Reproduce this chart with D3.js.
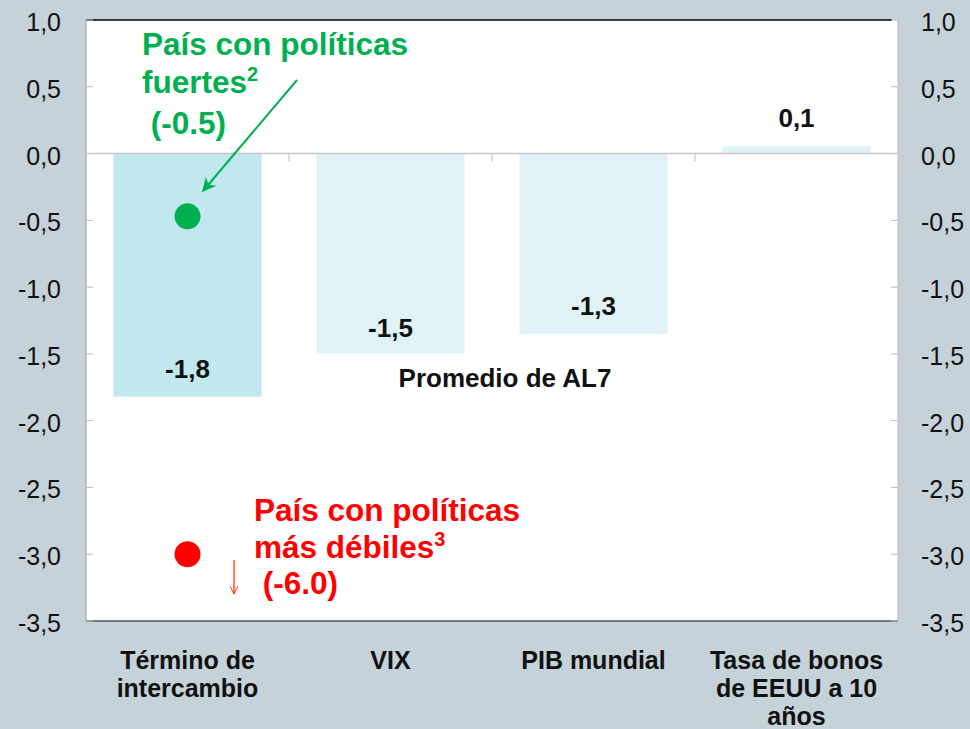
<!DOCTYPE html>
<html>
<head>
<meta charset="utf-8">
<script src="https://cdn.jsdelivr.net/npm/d3@7"></script>
<style>
  body { margin: 0; background: #c6d2d9; }
  svg { display: block; font-family: Arial, "Liberation Sans", sans-serif; }
</style>
</head>
<body>
<svg width="970" height="729"></svg>
<script>
// datos
const categories = ['Término de intercambio', 'VIX', 'PIB mundial', 'Tasa de bonos de EEUU a 10 años'];
const categoryLines = [['Término de', 'intercambio'], ['VIX'], ['PIB mundial'], ['Tasa de bonos', 'de EEUU a 10', 'años']];
const values = [-1.82, -1.5, -1.35, 0.055];
const valueLabels = ['-1,8', '-1,5', '-1,3', '0,1'];
const yTicks = [1.0, 0.5, 0.0, -0.5, -1.0, -1.5, -2.0, -2.5, -3.0, -3.5];
const strongPoint = { cat: 'Término de intercambio', value: -0.47 };
const weakPoint = { cat: 'Término de intercambio', value: -3.0 };

const svg = d3.select('svg');
const mLeft = 86, mRight = 898, mTop = 20, mBottom = 621;

const x = d3.scaleBand().domain(categories).range([mLeft, mRight]).paddingInner(0.27).paddingOuter(0.135);
const y = d3.scaleLinear().domain([-3.5, 1.0]).range([mBottom, mTop]);

const defs = svg.append('defs');
defs.append('marker').attr('id', 'arrowG').attr('viewBox', '0 0 10 10')
  .attr('refX', 9).attr('refY', 5).attr('markerWidth', 7).attr('markerHeight', 7)
  .attr('orient', 'auto')
  .append('path').attr('d', 'M0,0 L10,5 L0,10 L3,5 Z').attr('fill', '#00b050');
defs.append('marker').attr('id', 'arrowR').attr('viewBox', '0 0 10 10')
  .attr('refX', 10).attr('refY', 5).attr('markerWidth', 8).attr('markerHeight', 8)
  .attr('markerUnits', 'userSpaceOnUse')
  .attr('orient', 'auto')
  .append('path').attr('d', 'M0,0 L10,5 L0,10').attr('fill', 'none').attr('stroke', '#ff3300').attr('stroke-width', 1.2);

// area de trazado
svg.append('rect').attr('x', mLeft).attr('y', mTop).attr('width', mRight - mLeft).attr('height', mBottom - mTop)
  .attr('fill', '#fff');
svg.append('line').attr('x1', mLeft).attr('x2', mRight - 6).attr('y1', mTop).attr('y2', mTop).attr('stroke', '#000').attr('stroke-width', 1.5);
svg.append('line').attr('x1', mLeft).attr('x2', mRight).attr('y1', mBottom).attr('y2', mBottom).attr('stroke', '#555').attr('stroke-width', 1.5);
svg.append('line').attr('x1', mLeft).attr('x2', mLeft).attr('y1', mTop).attr('y2', mBottom).attr('stroke', '#999');
svg.append('line').attr('x1', mRight).attr('x2', mRight).attr('y1', mTop).attr('y2', mBottom).attr('stroke', '#bbb');

// ticks izquierda y derecha
svg.append('g').selectAll('line').data(yTicks).join('line')
  .attr('x1', mLeft).attr('x2', mLeft + 7).attr('y1', d => y(d)).attr('y2', d => y(d)).attr('stroke', '#bbb');
svg.append('g').selectAll('line').data(yTicks).join('line')
  .attr('x1', mRight - 7).attr('x2', mRight).attr('y1', d => y(d)).attr('y2', d => y(d)).attr('stroke', '#bbb');

const fmt = d => d3.format('.1f')(d).replace('.', ',').replace('−', '-');
svg.append('g').selectAll('text').data(yTicks).join('text')
  .attr('x', 61).attr('y', d => y(d)).attr('dy', '0.44em').attr('text-anchor', 'end')
  .attr('font-size', 25).attr('fill', '#111').text(fmt);
svg.append('g').selectAll('text').data(yTicks).join('text')
  .attr('x', 921).attr('y', d => y(d)).attr('dy', '0.44em').attr('text-anchor', 'start')
  .attr('font-size', 25).attr('fill', '#111').text(fmt);

// barras
svg.append('g').selectAll('rect').data(categories).join('rect')
  .attr('x', d => x(d)).attr('width', x.bandwidth())
  .attr('y', (d, i) => y(Math.max(0, values[i])))
  .attr('height', (d, i) => Math.abs(y(values[i]) - y(0)))
  .attr('fill', (d, i) => i === 0 ? '#c1e8ee' : '#dff3f6');

// linea del cero y separadores
svg.append('line').attr('x1', mLeft).attr('x2', mRight).attr('y1', y(0)).attr('y2', y(0)).attr('stroke', '#c8c8c8').attr('stroke-width', 1.5);
const step = x.step();
svg.append('g').selectAll('line').data(categories.slice(1)).join('line')
  .attr('x1', d => x(d) - step * 0.27 / 2).attr('x2', d => x(d) - step * 0.27 / 2)
  .attr('y1', y(0)).attr('y2', y(0) + 8).attr('stroke', '#bbb');

// etiquetas de valores (linea base en unidades del eje)
const labelBase = [-1.68, -1.37, -1.21, 0.2];
svg.append('g').selectAll('text').data(categories).join('text')
  .attr('x', d => x(d) + x.bandwidth() / 2).attr('y', (d, i) => y(labelBase[i]))
  .attr('text-anchor', 'middle')
  .attr('font-size', 26).attr('font-weight', 'bold').attr('fill', '#111')
  .text((d, i) => valueLabels[i]);

svg.append('text').attr('x', 505).attr('y', y(-1.75)).attr('text-anchor', 'middle')
  .attr('font-size', 26).attr('font-weight', 'bold').attr('fill', '#111').text('Promedio de AL7');

// puntos
const cx = c => x(c) + x.bandwidth() / 2;
svg.append('circle').attr('cx', cx(strongPoint.cat)).attr('cy', y(strongPoint.value)).attr('r', 13).attr('fill', '#00b050');
svg.append('circle').attr('cx', cx(weakPoint.cat)).attr('cy', y(weakPoint.value)).attr('r', 13).attr('fill', '#ff0000');

// anotacion verde
const green = svg.append('text').attr('font-size', 31.5).attr('font-weight', 'bold').attr('fill', '#00b050');
green.append('tspan').attr('x', 142).attr('y', 55).text('País con políticas');
green.append('tspan').attr('x', 142).attr('y', 93).text('fuertes');
green.append('tspan').attr('font-size', 20).attr('dy', -12).text('2');
green.append('tspan').attr('x', 142).attr('y', 134).text(' (-0.5)');

svg.append('line').attr('x1', 297).attr('y1', 80).attr('x2', 203).attr('y2', 191)
  .attr('stroke', '#00b050').attr('stroke-width', 2).attr('marker-end', 'url(#arrowG)');

// anotacion roja
const red = svg.append('text').attr('font-size', 31.5).attr('font-weight', 'bold').attr('fill', '#ff0000');
red.append('tspan').attr('x', 254).attr('y', 521).text('País con políticas');
red.append('tspan').attr('x', 254).attr('y', 558).text('más débiles');
red.append('tspan').attr('font-size', 20).attr('dy', -12).text('3');
red.append('tspan').attr('x', 254).attr('y', 594).text(' (-6.0)');

svg.append('line').attr('x1', 234).attr('y1', 560).attr('x2', 234).attr('y2', 594)
  .attr('stroke', '#ff3300').attr('stroke-width', 1.3).attr('marker-end', 'url(#arrowR)');

// etiquetas de categorias
const xl = svg.append('g');
categories.forEach((c, i) => {
  const t = xl.append('text').attr('text-anchor', 'middle').attr('font-size', 25).attr('font-weight', 'bold').attr('fill', '#111');
  categoryLines[i].forEach((line, j) => {
    t.append('tspan').attr('x', cx(c)).attr('y', 669 + j * 28).text(line);
  });
});
</script>
</body>
</html>
